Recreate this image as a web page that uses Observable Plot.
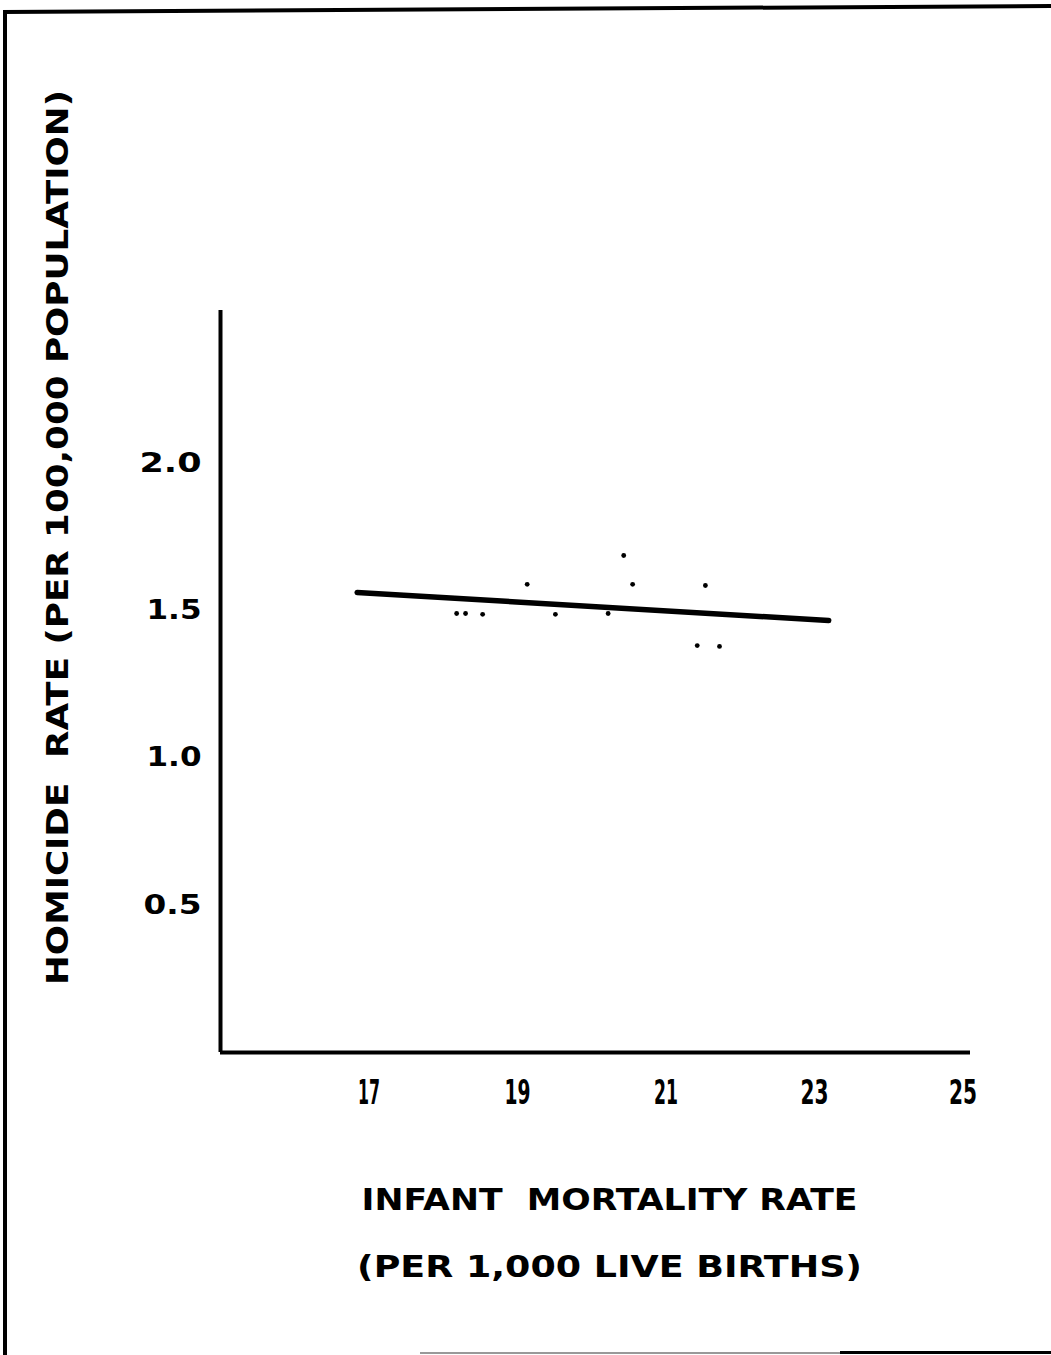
<!DOCTYPE html>
<html>
<head>
<meta charset="utf-8">
<script src="https://cdn.jsdelivr.net/npm/d3@7"></script>
<script src="https://cdn.jsdelivr.net/npm/@observablehq/plot@0.6"></script>
<style>
  html, body { margin: 0; padding: 0; background: #fff; }
  #wrap { position: relative; width: 1051px; height: 1355px; overflow: hidden; background: #fff; }
  #bleft { position: absolute; left: 3px; top: 11px; width: 4px; height: 1344px; background: #000; }
  #btop { position: absolute; left: 3px; top: 10px; width: 1048px; height: 4px; background: #000; transform: rotate(-0.33deg); transform-origin: left top; }
  #bbot { position: absolute; left: 840px; top: 1351px; width: 211px; height: 3px; background: #000; }
  #bbot2 { position: absolute; left: 420px; top: 1352px; width: 420px; height: 2px; background: #999; }
  #chart { position: absolute; left: 0; top: 0; }
</style>
</head>
<body>
<div id="wrap">
  <div id="chart"></div>
  <div id="bleft"></div>
  <div id="btop"></div>
  <div id="bbot2"></div>
  <div id="bbot"></div>
</div>
<script>
// Infant mortality rate (per 1,000 live births)
const infantMortality = [18.18, 18.30, 18.53, 19.13, 19.51, 20.22, 20.43, 20.55, 21.42, 21.53, 21.72];
// Homicide rate (per 100,000 population)
const homicideRate   = [1.491, 1.491, 1.488, 1.590, 1.488, 1.491, 1.688, 1.590, 1.382, 1.586, 1.379];
// Fitted line endpoints
const fitX = [16.84, 23.19];
const fitY = [1.5625, 1.467];
const xTicks = [17, 19, 21, 23, 25];
const yTicks = [0.5, 1.0, 1.5, 2.0];
const xTitle1 = "INFANT  MORTALITY RATE";
const xTitle2 = "(PER 1,000 LIVE BIRTHS)";
const yTitle = "HOMICIDE  RATE (PER 100,000 POPULATION)";

const points = infantMortality.map((x, i) => ({x, y: homicideRate[i]}));
const fit = fitX.map((x, i) => ({x, y: fitY[i]}));

const font = "'DejaVu Sans', sans-serif";

const chart = Plot.plot({
  width: 1051,
  height: 1355,
  marginLeft: 220,
  marginRight: 81,
  marginTop: 310,
  marginBottom: 303,
  style: {background: "#fff", color: "#000", fontFamily: font, fontWeight: "bold"},
  x: {domain: [15, 25.1]},
  y: {domain: [0, 2.52]},
  marks: [
    Plot.axisX({ticks: xTicks, tickSize: 0, tickPadding: 27, fontSize: 34, label: null, tickFormat: d3.format("d")}),
    Plot.axisY({ticks: yTicks, tickSize: 0, tickPadding: 19, fontSize: 26, label: null, tickFormat: d3.format(".1f")}),
    Plot.ruleY([0], {stroke: "#000", strokeWidth: 4}),
    Plot.ruleX([15], {stroke: "#000", strokeWidth: 4}),
    Plot.line(fit, {x: "x", y: "y", stroke: "#000", strokeWidth: 5.5, strokeLinecap: "round"}),
    Plot.dot(points, {x: "x", y: "y", r: 2.4, fill: "#000", stroke: null}),
    Plot.text([xTitle1], {text: d => d, frameAnchor: "bottom", textAnchor: "middle", lineAnchor: "middle", dx: 14, dy: 148, fontSize: 30, fontWeight: "bold", fill: "#000"}),
    Plot.text([xTitle2], {text: d => d, frameAnchor: "bottom", textAnchor: "middle", lineAnchor: "middle", dx: 14, dy: 215, fontSize: 30, fontWeight: "bold", fill: "#000"}),
    Plot.text([yTitle], {text: d => d, frameAnchor: "left", textAnchor: "middle", lineAnchor: "middle", rotate: -90, dx: -162, dy: -144, fontSize: 30, fontWeight: "bold", fill: "#000"})
  ]
});
document.getElementById("chart").appendChild(chart);

// fit text widths to the reference lettering
const lengths = new Map([[xTitle1, 496], [xTitle2, 505], [yTitle, 895],
  ["2.0", 62], ["1.5", 55], ["1.0", 55], ["0.5", 58],
  ["17", 22], ["19", 26], ["21", 24], ["23", 28], ["25", 28]]);
chart.querySelectorAll("text").forEach(t => {
  const L = lengths.get(t.textContent);
  if (L) { t.setAttribute("textLength", L); t.setAttribute("lengthAdjust", "spacingAndGlyphs"); }
});
</script>
</body>
</html>
